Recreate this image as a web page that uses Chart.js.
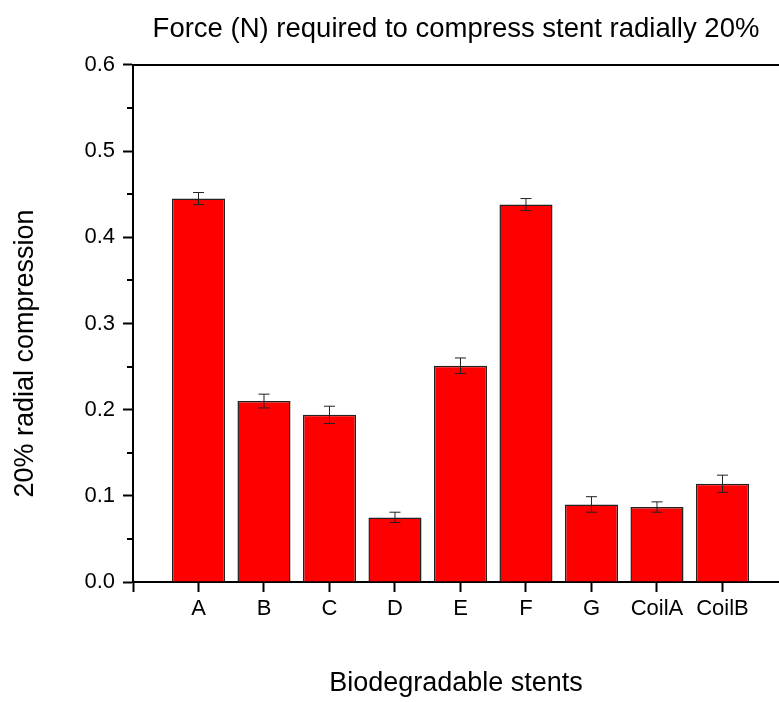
<!DOCTYPE html>
<html>
<head>
<meta charset="utf-8">
<script src="https://cdn.jsdelivr.net/npm/chart.js@4"></script>
<style>
  html, body { margin: 0; padding: 0; background: #fff; }
  #wrap { width: 779px; height: 702px; }
</style>
</head>
<body>
<div id="wrap"><canvas id="stents"></canvas></div>
<script>
const stents = ['A', 'B', 'C', 'D', 'E', 'F', 'G', 'CoilA', 'CoilB'];
const force = [0.445, 0.210, 0.194, 0.075, 0.251, 0.438, 0.090, 0.087, 0.114];
const forceErr = [0.007, 0.008, 0.010, 0.006, 0.009, 0.007, 0.009, 0.006, 0.010];
const yTicks = [0, 0.1, 0.2, 0.3, 0.4, 0.5, 0.6];

const FONT = '"Liberation Sans", Arial, sans-serif';

// error bars drawn on top of the bars, through the y scale
const errorBars = {
  id: 'errorBars',
  afterDatasetsDraw(chart) {
    const ctx = chart.ctx;
    const y = chart.scales.y;
    const meta = chart.getDatasetMeta(0);
    ctx.save();
    ctx.strokeStyle = '#222';
    ctx.lineWidth = 1;
    meta.data.forEach((bar, i) => {
      const top = y.getPixelForValue(force[i] + forceErr[i]);
      const bot = y.getPixelForValue(force[i] - forceErr[i]);
      ctx.beginPath();
      ctx.moveTo(bar.x, top); ctx.lineTo(bar.x, bot);
      ctx.moveTo(bar.x - 5.5, top); ctx.lineTo(bar.x + 5.5, top);
      ctx.moveTo(bar.x - 5.5, bot); ctx.lineTo(bar.x + 5.5, bot);
      ctx.stroke();
    });
    ctx.restore();
  }
};

// short minor ticks on the y axis
const minorTicks = {
  id: 'minorTicks',
  afterDraw(chart) {
    const ctx = chart.ctx;
    const y = chart.scales.y;
    ctx.save();
    ctx.strokeStyle = '#000';
    ctx.lineWidth = 2;
    y.ticks.forEach(t => {
      if (Math.round(t.value * 100) % 10 === 0) return;
      const py = Math.round(y.getPixelForValue(t.value));
      ctx.beginPath();
      ctx.moveTo(y.right - 6, py); ctx.lineTo(y.right, py);
      ctx.stroke();
    });
    ctx.restore();
  }
};

new Chart(document.getElementById('stents'), {
  type: 'bar',
  data: {
    datasets: [{
      data: force.map((v, i) => ({x: i + 1, y: v})),
      backgroundColor: '#ff0000',
      borderColor: '#222',
      borderWidth: 1.5,
      categoryPercentage: 1,
      barPercentage: 0.81
    }]
  },
  options: {
    responsive: true,
    maintainAspectRatio: false,
    animation: false,
    layout: {padding: 0},
    plugins: {
      legend: {display: false},
      tooltip: {enabled: false},
      title: {
        display: true,
        fullSize: false,
        text: 'Force (N) required to compress stent radially 20%',
        color: '#000',
        font: {family: FONT, size: 27.5, weight: 'normal'},
        padding: {top: 13, bottom: 19}
      }
    },
    scales: {
      x: {
        type: 'linear',
        position: 'bottom',
        offset: false,
        min: 0,
        max: 9.863,
        afterBuildTicks: s => { s.ticks = [0, 1, 2, 3, 4, 5, 6, 7, 8, 9].map(v => ({value: v})); },
        afterFit: s => { s.height = 120; },
        ticks: {
          autoSkip: false,
          maxRotation: 0,
          padding: 4,
          color: '#000',
          font: {family: FONT, size: 22},
          callback: v => (v >= 1 ? stents[v - 1] : '')
        },
        grid: {display: true, offset: false, drawOnChartArea: false, tickLength: 10, tickWidth: 2, tickColor: '#000'},
        border: {display: true, color: '#000', width: 2},
        title: {
          display: true,
          text: 'Biodegradable stents',
          color: '#000',
          font: {family: FONT, size: 27},
          padding: {top: 0, bottom: 2}
        }
      },
      xTop: {
        type: 'linear',
        position: 'top',
        min: 0,
        max: 1,
        ticks: {display: false},
        grid: {display: false, drawTicks: false},
        border: {display: true, color: '#000', width: 2}
      },
      y: {
        min: 0,
        max: 0.6,
        afterBuildTicks: s => {
          const t = [];
          for (let k = 0; k <= 12; k++) t.push({value: k * 0.05});
          s.ticks = t;
        },
        afterFit: s => { s.width = 133; },
        ticks: {
          autoSkip: false,
          padding: 8,
          color: '#000',
          font: {family: FONT, size: 22},
          callback: v => {
            const k = Math.round(v * 100);
            return yTicks.some(t => Math.round(t * 100) === k) ? (k / 100).toFixed(1) : '';
          }
        },
        grid: {
          display: true,
          drawOnChartArea: false,
          tickLength: 10,
          tickWidth: 2,
          tickColor: c => (Math.round(c.tick.value * 100) % 10 === 0 ? '#000' : 'rgba(0,0,0,0)')
        },
        border: {display: true, color: '#000', width: 2},
        title: {
          display: true,
          text: '20% radial compression        ',
          color: '#000',
          font: {family: FONT, size: 27},
          padding: {top: 9, bottom: 0}
        }
      }
    }
  },
  plugins: [errorBars, minorTicks]
});
</script>
</body>
</html>
